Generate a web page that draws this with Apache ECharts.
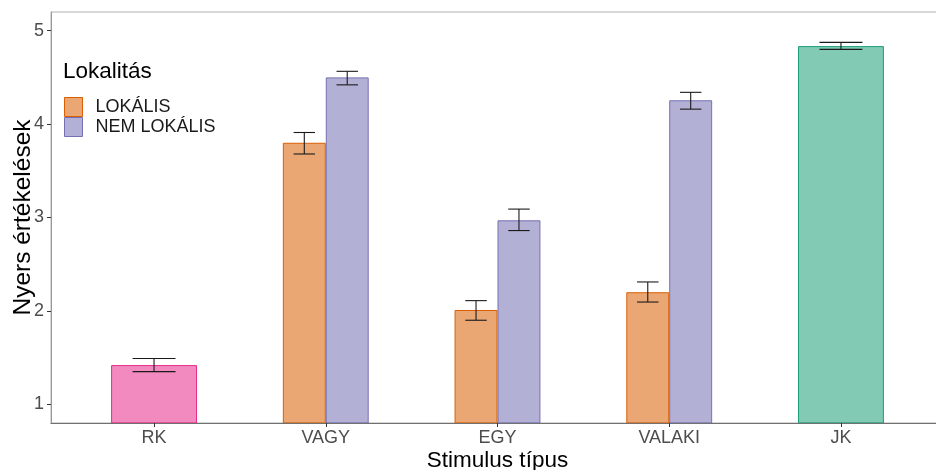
<!DOCTYPE html>
<html>
<head>
<meta charset="utf-8">
<script src="https://cdn.jsdelivr.net/npm/echarts@6/dist/echarts.min.js"></script>
<style>
html,body{margin:0;padding:0;background:#fff;}
#chart{width:936px;height:470px;}
</style>
</head>
<body>
<div id="chart"></div>
<script>
// ---- data ----
const categories = ['RK', 'VAGY', 'EGY', 'VALAKI', 'JK'];
const yTicks = [1, 2, 3, 4, 5];
const lokalisMean  = [null, 3.80, 2.01, 2.20, null];
const lokalisLower = [null, 3.68, 1.90, 2.095, null];
const lokalisUpper = [null, 3.91, 2.11, 2.31, null];
const nemLokalisMean  = [null, 4.50, 2.97, 4.255, null];
const nemLokalisLower = [null, 4.42, 2.86, 4.16, null];
const nemLokalisUpper = [null, 4.565, 3.09, 4.34, null];
const kontrollMean  = [1.42, null, null, null, 4.835];
const kontrollLower = [1.35, null, null, null, 4.80];
const kontrollUpper = [1.49, null, null, null, 4.875];

// ---- styles ----
const FONT = 'Liberation Sans, Arial, sans-serif';
const colLok = '#D95F02', colNem = '#7570B3';
const kontrollColor = { RK: '#E7298A', JK: '#1B9E77' };
const ALPHA = 0.55;
function rgba(hex, a) {
  const r = parseInt(hex.slice(1,3),16), g = parseInt(hex.slice(3,5),16), b = parseInt(hex.slice(5,7),16);
  return 'rgba(' + r + ',' + g + ',' + b + ',' + a + ')';
}
const Y_MIN = 0.8, Y_MAX = 5.2;

function buildData(mean, lo, hi) {
  const out = [];
  categories.forEach((c, i) => {
    if (mean[i] != null) out.push([i + 1, mean[i], lo[i], hi[i], c]);
  });
  return out;
}

function makeRender(offset, barW, errW, colorFn) {
  return function (params, api) {
    const x = api.value(0), m = api.value(1), lo = api.value(2), hi = api.value(3);
    const cat = categories[x - 1];
    const color = colorFn(cat);
    const cs = params.coordSys;
    const p1 = api.coord([x + offset - barW / 2, m]);
    const p2 = api.coord([x + offset + barW / 2, Y_MIN]);
    const rect = echarts.graphic.clipRectByRect(
      { x: p1[0] + 0.5, y: p1[1] + 0.5, width: p2[0] - p1[0] - 1, height: p2[1] - p1[1] },
      { x: cs.x, y: cs.y, width: cs.width, height: cs.height }
    );
    const cx = api.coord([x + offset, m])[0];
    const hw = (api.coord([x + errW / 2, m])[0] - api.coord([x - errW / 2, m])[0]) / 2;
    const yLo = api.coord([x, lo])[1], yHi = api.coord([x, hi])[1];
    const eStyle = { stroke: '#1a1a1a', lineWidth: 1.1 };
    return {
      type: 'group',
      children: [
        { type: 'rect', shape: rect, style: { fill: rgba(color, ALPHA), stroke: color, lineWidth: 1 } },
        { type: 'line', shape: { x1: cx, y1: yLo, x2: cx, y2: yHi }, style: eStyle },
        { type: 'line', shape: { x1: cx - hw, y1: yLo, x2: cx + hw, y2: yLo }, style: eStyle },
        { type: 'line', shape: { x1: cx - hw, y1: yHi, x2: cx + hw, y2: yHi }, style: eStyle }
      ]
    };
  };
}

const chart = echarts.init(document.getElementById('chart'), null, { renderer: 'canvas' });
chart.setOption({
  animation: false,
  backgroundColor: '#fff',
  textStyle: { fontFamily: FONT },
  grid: { left: 51, top: 12, width: 893, height: 411, show: true, borderColor: '#b0b0b0', borderWidth: 1, containLabel: false, outerBoundsMode: 'none' },
  title: {
    text: 'Lokalitás', left: 58, top: 55,
    textStyle: { fontFamily: FONT, fontSize: 22.5, fontWeight: 'normal', color: '#000' }
  },
  legend: {
    orient: 'vertical', left: 59, top: 92, itemWidth: 18, itemHeight: 19, itemGap: 0,
    selectedMode: false,
    textStyle: { fontFamily: FONT, fontSize: 18, color: '#1a1a1a', padding: [0, 0, 0, 8] },
    data: [
      { name: 'LOKÁLIS', icon: 'rect', itemStyle: { color: rgba(colLok, ALPHA), borderColor: colLok, borderWidth: 1 } },
      { name: 'NEM LOKÁLIS', icon: 'rect', itemStyle: { color: rgba(colNem, ALPHA), borderColor: colNem, borderWidth: 1 } }
    ]
  },
  xAxis: {
    type: 'value', min: 0.4, max: 5.6,
    name: 'Stimulus típus', nameLocation: 'middle', nameGap: 26, nameMoveOverlap: false,
    nameTextStyle: { fontFamily: FONT, fontSize: 22.5, color: '#000' },
    axisLine: { show: true, lineStyle: { color: '#707070', width: 1.2 } },
    axisTick: { show: true, length: 4, customValues: [1, 2, 3, 4, 5], lineStyle: { color: '#333' } },
    axisLabel: {
      customValues: [1, 2, 3, 4, 5], margin: 6,
      formatter: v => categories[Math.round(v) - 1] || '',
      fontFamily: FONT, fontSize: 18, color: '#4d4d4d'
    },
    splitLine: { show: false }
  },
  yAxis: {
    type: 'value', min: Y_MIN, max: Y_MAX,
    name: 'Nyers értékelések', nameLocation: 'middle', nameGap: 15, nameRotate: 90, nameMoveOverlap: false,
    nameTextStyle: { fontFamily: FONT, fontSize: 24.5, color: '#000' },
    axisLine: { show: true, lineStyle: { color: '#999', width: 1 } },
    axisTick: { show: true, length: 4, customValues: yTicks, lineStyle: { color: '#333' } },
    axisLabel: { customValues: yTicks, margin: 7, fontFamily: FONT, fontSize: 18, color: '#4d4d4d' },
    splitLine: { show: false }
  },
  series: [
    {
      name: 'Kontroll', type: 'custom', clip: true,
      encode: { x: 0, y: [1, 2, 3] },
      renderItem: makeRender(0, 0.5, 0.25, c => kontrollColor[c]),
      data: buildData(kontrollMean, kontrollLower, kontrollUpper)
    },
    {
      name: 'LOKÁLIS', type: 'custom', clip: true,
      itemStyle: { color: rgba(colLok, ALPHA), borderColor: colLok },
      encode: { x: 0, y: [1, 2, 3] },
      renderItem: makeRender(-0.125, 0.25, 0.125, () => colLok),
      data: buildData(lokalisMean, lokalisLower, lokalisUpper)
    },
    {
      name: 'NEM LOKÁLIS', type: 'custom', clip: true,
      itemStyle: { color: rgba(colNem, ALPHA), borderColor: colNem },
      encode: { x: 0, y: [1, 2, 3] },
      renderItem: makeRender(0.125, 0.25, 0.125, () => colNem),
      data: buildData(nemLokalisMean, nemLokalisLower, nemLokalisUpper)
    }
  ]
});
</script>
</body>
</html>
